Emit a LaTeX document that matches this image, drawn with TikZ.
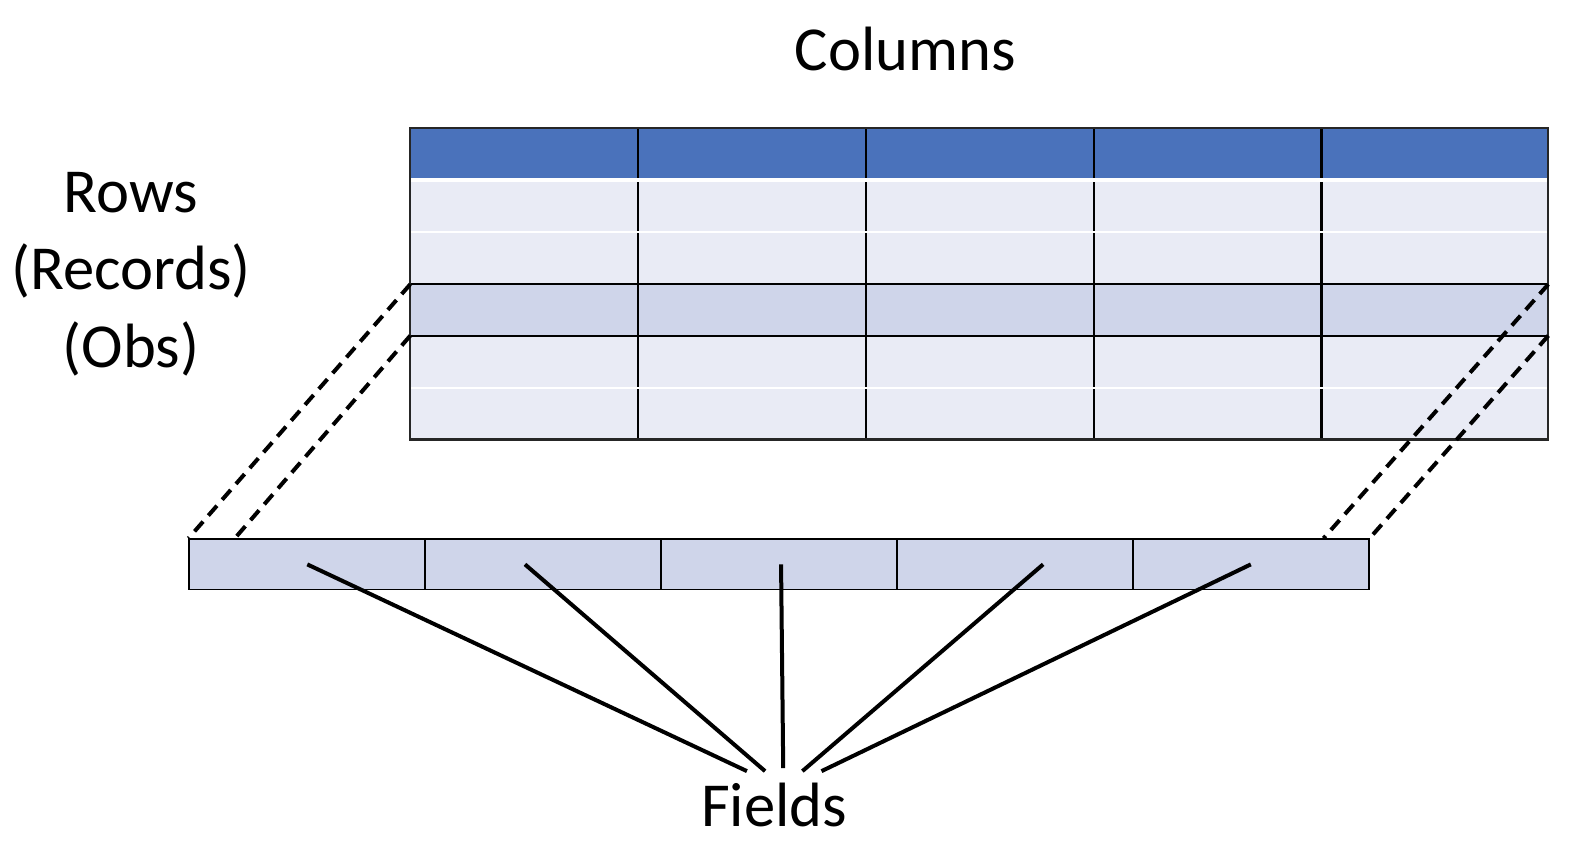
\documentclass[tikz,border=0pt]{standalone}
\usepackage{fontspec}
\setmainfont{Carlito}
\usetikzlibrary{positioning}
\definecolor{hdblue}{HTML}{4A72BB}
\definecolor{rowlight}{HTML}{E9EBF5}
\definecolor{rowmark}{HTML}{CFD5EA}

\begin{document}
\begin{tikzpicture}[x=0.504pt, y=-0.504pt,
  lbl/.style={font=\fontsize{31.3}{38.8}\selectfont, align=center, inner sep=0pt},
  cell/.style={draw=black, fill=rowmark, line width=0.9pt, inner sep=0pt,
               minimum width=117.9pt, minimum height=25.2pt, anchor=north west},
  link/.style={black, line width=2pt, dash pattern=on 6.5pt off 4pt},
  fieldline/.style={black, line width=2pt}]
\useasboundingbox (0,0) rectangle (1567.46,835.32);

% Table (header + five records)
\fill[rowlight] (407,177) rectangle (1536,436);
\fill[rowmark] (407,282) rectangle (1536,333);
\fill[hdblue] (407,127) rectangle (1536,177);
\foreach \x in {633,859,1085,1311}
  \draw[black, line width=1.1pt] (\x,127) -- (\x,436);
\draw[white, line width=1.6pt] (407,178.5) -- (1536,178.5);
\foreach \y in {230,385}
  \draw[white, line width=0.7pt] (407,\y) -- (1536,\y);
\draw[black, line width=1.1pt] (407,282) -- (1536,282) (407,333) -- (1536,333);
\draw[black!85, line width=1.1pt] (407,127) rectangle (1536,436);

% Corners of the marked record
\coordinate (recNW) at (407,282);
\coordinate (recSW) at (407,333);
\coordinate (recNE) at (1536,282);
\coordinate (recSE) at (1536,333);

% Record pulled out as a bar of fields
\foreach \i in {0,...,4}
  \node[cell] (f\i) at ({187+234*\i},534) {};
\coordinate (barL) at (233,534);
\coordinate (barR) at (1313,534);

% Dashed guides
\draw[link] (recNW) -- (f0.north west);
\draw[link] (recSW) -- (barL);
\draw[link] (recNE) -- (barR);
\draw[link] (recSE) -- (f4.north east);

% Labels
\node[lbl, anchor=base] (cols) at (898,70) {Columns};
\node[lbl] (rows) at (130,272) {Rows\\(Records)\\(Obs)};
\node[lbl, anchor=base] (fields) at (768,820) {Fields};

% Lines to the fields
\coordinate (fa) at (741,765);
\coordinate (fb) at (759,765);
\coordinate (fc) at (777,762);
\coordinate (fd) at (796,765);
\coordinate (fe) at (815,765);
\draw[fieldline] (f0.center) -- (fa);
\draw[fieldline] ([xshift=-9.1pt]f1.center) -- (fb);
\draw[fieldline] ([xshift=1pt]f2.center) -- (fc);
\draw[fieldline] ([xshift=14.1pt]f3.center) -- (fd);
\draw[fieldline] (f4.center) -- (fe);
\end{tikzpicture}
\end{document}
